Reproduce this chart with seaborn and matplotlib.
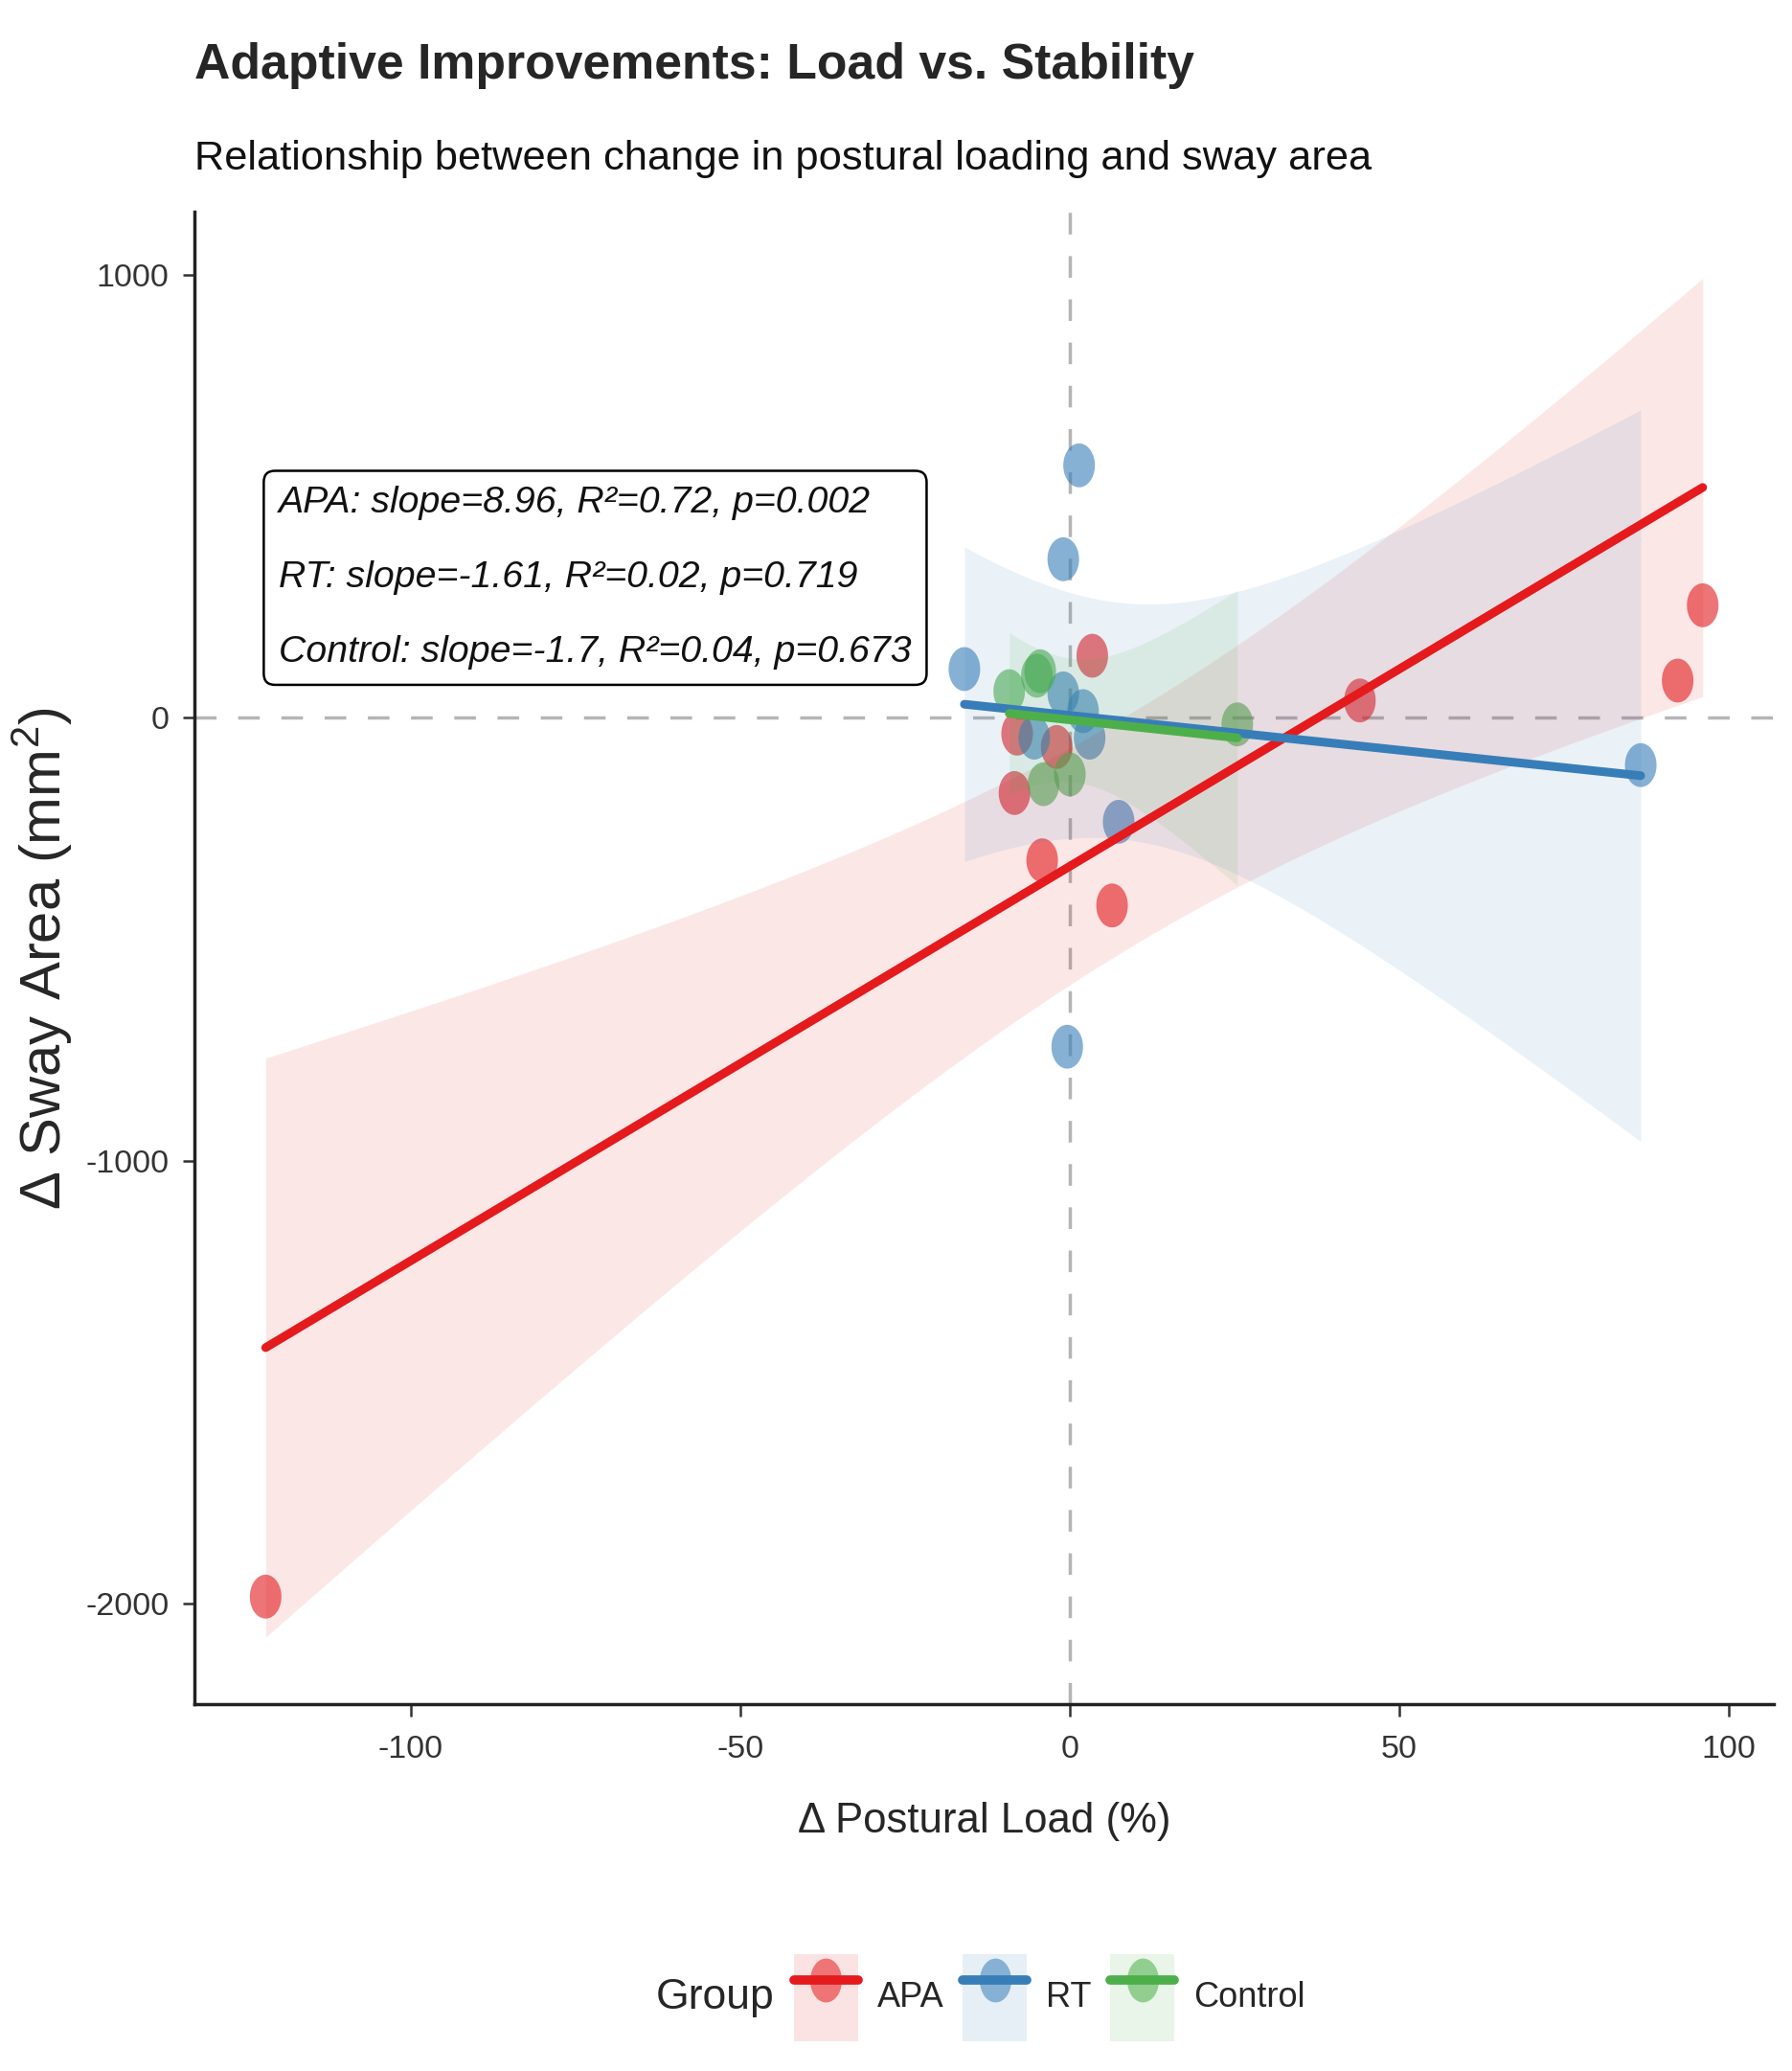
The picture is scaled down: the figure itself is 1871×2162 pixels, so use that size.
import numpy as np
import pandas as pd
import matplotlib
matplotlib.use("Agg")
import matplotlib.pyplot as plt
from matplotlib.path import Path
from matplotlib.patches import Patch
from matplotlib.lines import Line2D
from matplotlib.legend_handler import HandlerTuple
import seaborn as sns

# data
groups = ["APA", "RT", "Control"]
colors = ["#E41A1C", "#377EB8", "#4DAF4A"]

apa_load = [-122, 96, 92.2, 44, 3.4, -8, -2, -8.4, -4.2, 6.4]
apa_sway = [-1985, 254, 84, 39, 140, -36, -66, -170, -322, -424]
rt_load = [1.4, -1, -16, -1, 2, 3, -5.4, 7.4, -0.4, 86.6]
rt_sway = [570, 358, 110, 55, 15, -45, -45, -235, -743, -107]
ctrl_load = [-9.2, -5, -4.5, -4, 0, 25.4]
ctrl_sway = [60, 95, 105, -150, -128, -15]

stat_labels = [
    "APA: slope=8.96, R\u00b2=0.72, p=0.002",
    "RT: slope=-1.61, R\u00b2=0.02, p=0.719",
    "Control: slope=-1.7, R\u00b2=0.04, p=0.673",
]
x_ticks = [-100, -50, 0, 50, 100]
y_ticks = [-2000, -1000, 0, 1000]

df = pd.DataFrame({
    "load": apa_load + rt_load + ctrl_load,
    "sway": apa_sway + rt_sway + ctrl_sway,
    "group": ["APA"] * len(apa_load) + ["RT"] * len(rt_load) + ["Control"] * len(ctrl_load),
})

# t quantiles (0.975) for the 95% band
t975 = {4: 2.776, 5: 2.571, 6: 2.447, 7: 2.365, 8: 2.306, 9: 2.262, 10: 2.228}

sns.set_theme(style="ticks")
plt.rcParams["font.family"] = ["Liberation Sans", "DejaVu Sans"]
plt.rcParams["axes.unicode_minus"] = False
plt.rcParams["mathtext.default"] = "regular"

fig = plt.figure(figsize=(18.71, 21.62), dpi=100)
ax = fig.add_axes([0.1085, 0.1771, 0.8814, 0.7207])

# squashed circle, like the reference
tt = np.linspace(0, 2 * np.pi, 64)
ell = Path(np.column_stack([0.72 * np.cos(tt), np.sin(tt)]), closed=True)

ax.axhline(0, color="#b5b5b5", lw=2.5, ls=(0, (6.5, 6.5)), zorder=1)
ax.axvline(0, color="#b5b5b5", lw=2.5, ls=(0, (6.5, 6.5)), zorder=1)

sns.scatterplot(data=df, x="load", y="sway", hue="group", hue_order=groups,
                palette=colors, marker=ell, s=33 ** 2, alpha=0.6,
                linewidth=0, legend=False, ax=ax, zorder=2)

for g, c in zip(groups, colors):
    sub = df[df["group"] == g]
    x = sub["load"].to_numpy(float)
    y = sub["sway"].to_numpy(float)
    n = len(x)
    b, a = np.polyfit(x, y, 1)
    res = y - (a + b * x)
    s = np.sqrt((res ** 2).sum() / (n - 2))
    sxx = ((x - x.mean()) ** 2).sum()
    xg = np.linspace(x.min(), x.max(), 200)
    se = s * np.sqrt(1 / n + (xg - x.mean()) ** 2 / sxx)
    yg = a + b * xg
    ax.fill_between(xg, yg - t975[n - 2] * se, yg + t975[n - 2] * se,
                    color=c, alpha=0.1, lw=0, zorder=3)
    sns.regplot(data=sub, x="load", y="sway", ci=None, scatter=False,
                color=c, line_kws={"lw": 6.5, "zorder": 4}, ax=ax)

ax.text(-120, 316, "\n".join(stat_labels), fontsize=28.3, style="italic",
        va="center", ha="left", linespacing=2.5, zorder=6, color="#111111",
        bbox=dict(boxstyle="round,pad=0.4,rounding_size=0.3", fc="white",
                  ec="black", lw=1.8))

ax.set_xlim(-132.8, 106.8)
ax.set_ylim(-2228, 1143)
ax.set_xticks(x_ticks)
ax.set_yticks(y_ticks)
ax.tick_params(labelsize=24.5, length=9, width=1.8, colors="#333333",
               labelcolor="#333333", pad=10)
ax.tick_params(axis="x", pad=14)
sns.despine(ax=ax)
for sp in ["left", "bottom"]:
    ax.spines[sp].set_linewidth(2.5)
    ax.spines[sp].set_color("#222222")

ax.set_xlabel("\u0394 Postural Load (%)", fontsize=31.5, labelpad=28)
ax.set_ylabel("\u0394 Sway Area (mm$^{2}$)", fontsize=43)
ax.yaxis.set_label_coords(-0.076, 0.5)

fig.text(0.1085, 0.962, "Adaptive Improvements: Load vs. Stability",
         fontsize=37.3, fontweight="bold", ha="left", va="baseline")
fig.text(0.1085, 0.918, "Relationship between change in postural loading and sway area",
         fontsize=31.2, ha="left", va="baseline", color="#111111")

handles = []
for c in colors:
    box = Patch(facecolor=c, alpha=0.12, edgecolor="none")
    ln = Line2D([], [], color=c, lw=7, marker=ell, markersize=33,
                markerfacecolor=matplotlib.colors.to_rgba(c, 0.55),
                markeredgewidth=0)
    handles.append((box, ln))

fig.text(0.366, 0.0356, "Group", fontsize=32, ha="left", va="center")
fig.legend(handles, groups, handler_map={tuple: HandlerTuple(ndivide=1)},
           loc="center left", bbox_to_anchor=(0.443, 0.0356), ncol=3,
           frameon=False, fontsize=26, borderpad=0, borderaxespad=0,
           handlelength=1.85, handleheight=3.5, columnspacing=0.55,
           handletextpad=0.55)

fig.savefig("out.png", dpi=100)
